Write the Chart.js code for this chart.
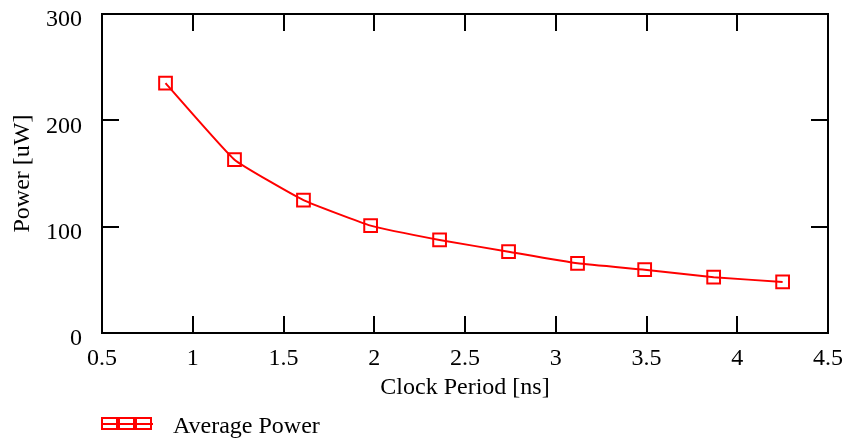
<!DOCTYPE html>
<html>
<head>
<meta charset="utf-8">
<script src="https://cdn.jsdelivr.net/npm/chart.js@4/dist/chart.umd.min.js"></script>
<style>
    html, body { margin: 0; padding: 0; background: #fff; }
    #wrap { width: 848px; height: 444px; }
</style>
</head>
<body>
<div id="wrap"><canvas id="powerChart" width="848" height="444"></canvas></div>
<script>
// Data
const clockPeriod = [0.85, 1.23, 1.61, 1.98, 2.36, 2.74, 3.12, 3.49, 3.87, 4.25];
const avgPower = [235, 163, 125, 101, 87.5, 76.5, 65.5, 59.5, 52.5, 48];
const xTicks = [0.5, 1, 1.5, 2, 2.5, 3, 3.5, 4, 4.5];
const yTicks = [0, 100, 200, 300];

const FONT = 'Liberation Serif, Times New Roman, serif';
const RED = '#ff0000';

// Frame plus inward tick marks on all four sides, and the legend under the axis title
const framePlugin = {
    id: 'frame',
    afterDraw(chart) {
        const ctx = chart.ctx;
        const area = chart.chartArea;
        const xs = chart.scales.x;
        const ys = chart.scales.y;
        const tl = 17;
        ctx.save();
        ctx.strokeStyle = '#000';
        ctx.lineWidth = 2;
        ctx.strokeRect(area.left, area.top, area.right - area.left, area.bottom - area.top);
        ctx.beginPath();
        xTicks.forEach(v => {
            const px = Math.round(xs.getPixelForValue(v));
            ctx.moveTo(px, area.bottom); ctx.lineTo(px, area.bottom - tl);
            ctx.moveTo(px, area.top); ctx.lineTo(px, area.top + tl);
        });
        yTicks.forEach(v => {
            const py = Math.round(ys.getPixelForValue(v));
            ctx.moveTo(area.left, py); ctx.lineTo(area.left + tl, py);
            ctx.moveTo(area.right, py); ctx.lineTo(area.right - tl, py);
        });
        ctx.stroke();

        // legend
        const ds = chart.data.datasets[0];
        const ly = 424;
        ctx.strokeStyle = ds.borderColor;
        ctx.lineWidth = 2;
        for (let i = 0; i < 3; i++) {
            ctx.strokeRect(102 + i * 17, 418, 15, 11);
        }
        ctx.beginPath();
        ctx.moveTo(101, ly);
        ctx.lineTo(153, ly);
        ctx.stroke();
        ctx.fillStyle = '#000';
        ctx.font = '24px ' + FONT;
        ctx.textBaseline = 'middle';
        ctx.textAlign = 'left';
        ctx.fillText(ds.label, 173, 427);
        ctx.restore();
    }
};

const ctx = document.getElementById('powerChart').getContext('2d');
new Chart(ctx, {
    type: 'scatter',
    data: {
        datasets: [{
            label: 'Average Power',
            data: clockPeriod.map((x, i) => ({ x: x, y: avgPower[i] })),
            showLine: true,
            borderColor: RED,
            backgroundColor: 'rgba(0,0,0,0)',
            borderWidth: 2,
            tension: 0.12,
            pointStyle: 'rect',
            pointRadius: 9,
            pointBorderWidth: 2,
            pointBorderColor: RED,
            pointBackgroundColor: 'rgba(0,0,0,0)'
        }]
    },
    options: {
        responsive: false,
        animation: false,
        layout: {
            padding: { top: 14, right: 20, bottom: 40, left: 0 }
        },
        plugins: {
            legend: { display: false },
            tooltip: { enabled: false }
        },
        scales: {
            x: {
                type: 'linear',
                min: 0.5,
                max: 4.5,
                afterBuildTicks: scale => { scale.ticks = xTicks.map(v => ({ value: v })); },
                afterFit: scale => {
                    scale.height = 71;
                    scale.paddingLeft = 0;
                    scale.paddingRight = 0;
                },
                grid: { display: false },
                border: { display: false },
                ticks: {
                    color: '#000',
                    padding: 3,
                    maxRotation: 0,
                    font: { family: FONT, size: 24 },
                    callback: v => String(v)
                },
                title: {
                    display: true,
                    text: 'Clock Period [ns]',
                    color: '#000',
                    padding: { top: 0, bottom: 2 },
                    font: { family: FONT, size: 24 }
                }
            },
            y: {
                type: 'linear',
                min: 0,
                max: 300,
                afterBuildTicks: scale => { scale.ticks = yTicks.map(v => ({ value: v })); },
                afterFit: scale => {
                    scale.width = 102;
                    scale.paddingTop = 0;
                    scale.paddingBottom = 0;
                },
                grid: { display: false },
                border: { display: false },
                ticks: {
                    color: '#000',
                    padding: 12,
                    labelOffset: 6,
                    font: { family: FONT, size: 24 },
                    callback: v => String(v)
                },
                title: {
                    display: true,
                    text: 'Power [uW]',
                    color: '#000',
                    padding: { top: 8, bottom: 0 },
                    font: { family: FONT, size: 24 }
                }
            }
        }
    },
    plugins: [framePlugin]
});
</script>
</body>
</html>
